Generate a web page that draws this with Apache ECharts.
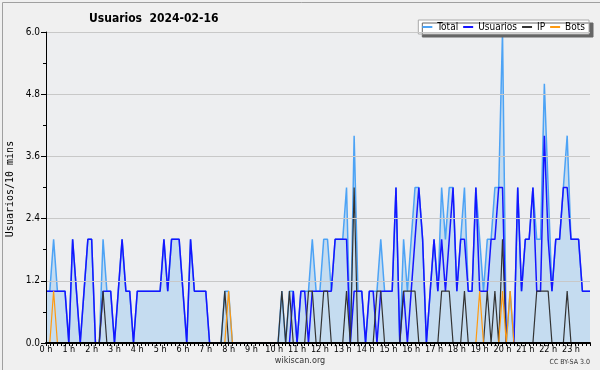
<!DOCTYPE html>
<html><head><meta charset="utf-8">
<script src="https://cdn.jsdelivr.net/npm/echarts@6/dist/echarts.min.js"></script>
<style>html,body{margin:0;padding:0;background:#f0f0f0}#c{width:600px;height:370px}</style>
</head><body><div id="c"></div>
<script>
const hourLabels = ['0 h','1 h','2 h','3 h','4 h','5 h','6 h','7 h','8 h','9 h','10 h','11 h','12 h','13 h','14 h','15 h','16 h','17 h','18 h','19 h','20 h','21 h','22 h','23 h'];
const yTickLabels = ['0.0','1.2','2.4','3.6','4.8','6.0'];
const seriesNames = ['Total','Usuarios','IP','Bots'];
// one value per 10 minutes (144 slots)
const total = [
1,1,2,1,1,1,0,2,1,0,1,2,2,0,0,2,1,1,0,1,2,1,1,0,
1,1,1,1,1,1,1,2,1,2,2,2,1,0,2,1,1,1,1,0,0,0,0,1,
1,0,0,0,0,0,0,0,0,0,0,0,0,0,1,0,1,1,0,1,1,1,2,1,
1,2,2,1,2,2,2,3,0,4,1,1,0,1,1,1,2,1,1,1,3,0,2,1,
2,3,3,2,0,1,2,1,3,2,3,3,1,2,3,1,1,3,2,1,2,2,3,3,
6,0,1,0,3,1,2,2,3,2,2,5,3,1,2,2,3,4,2,2,2,1,1,1];
const usuarios = [
1,1,1,1,1,1,0,2,1,0,1,2,2,0,0,1,1,1,0,1,2,1,1,0,
1,1,1,1,1,1,1,2,1,2,2,2,1,0,2,1,1,1,1,0,0,0,0,0,
0,0,0,0,0,0,0,0,0,0,0,0,0,0,0,0,0,1,0,1,1,0,1,1,
1,1,1,1,2,2,2,2,0,1,1,1,0,1,1,0,1,1,1,1,3,0,1,0,
1,2,3,2,0,1,2,1,2,1,2,3,1,2,2,1,1,3,1,1,1,2,2,3,
3,0,0,0,3,1,2,2,3,1,1,4,2,1,2,2,3,3,2,2,2,1,1,1];
const ip = [
0,0,0,0,0,0,0,0,0,0,0,0,0,0,0,1,0,0,0,0,0,0,0,0,
0,0,0,0,0,0,0,0,0,0,0,0,0,0,0,0,0,0,0,0,0,0,0,1,
0,0,0,0,0,0,0,0,0,0,0,0,0,0,1,0,1,0,0,0,0,1,1,0,
0,1,1,0,0,0,0,1,0,3,0,0,0,0,0,1,1,0,0,0,0,0,1,1,
1,1,0,0,0,0,0,0,1,1,1,0,0,0,1,0,0,0,0,0,1,0,1,0,
2,0,0,0,0,0,0,0,0,1,1,1,1,0,0,0,0,1,0,0,0,0,0,0];
const bots = [
0,0,1,0,0,0,0,0,0,0,0,0,0,0,0,0,0,0,0,0,0,0,0,0,
0,0,0,0,0,0,0,0,0,0,0,0,0,0,0,0,0,0,0,0,0,0,0,0,
1,0,0,0,0,0,0,0,0,0,0,0,0,0,0,0,0,0,0,0,0,0,0,0,
0,0,0,0,0,0,0,0,0,0,0,0,0,0,0,0,0,0,0,0,0,0,0,0,
0,0,0,0,0,0,0,0,0,0,0,0,0,0,0,0,0,0,1,0,0,0,0,0,
1,0,1,0,0,0,0,0,0,0,0,0,0,0,0,0,0,0,0,0,0,0,0,0];

const colors = {Total:'#4da3f5', Usuarios:'#1515ff', IP:'#333333', Bots:'#ff9a10'};
const F = 'DejaVu Sans Condensed, DejaVu Sans, sans-serif';
const pts = a => a.map((v,i)=>[i,v]);

const chart = echarts.init(document.getElementById('c'), null, {renderer:'canvas'});
chart.setOption({
  backgroundColor:'#f0f0f0',
  animation:false,
  title:{text:'Usuarios  2024-02-16', left:84, top:8,
    textStyle:{fontFamily:F, fontSize:12, fontWeight:'bold', color:'#000'}},
  legend:{data:seriesNames, right:11, top:20, orient:'horizontal',
    backgroundColor:'#ffffff', borderColor:'#aaaaaa', borderWidth:1,
    shadowColor:'#666', shadowBlur:0, shadowOffsetX:4, shadowOffsetY:3,
    padding:[2,4,2,4], itemGap:5, itemWidth:10, itemHeight:2, icon:'rect',
    textStyle:{fontFamily:F, fontSize:10, color:'#000'}},
  grid:{left:46, right:10, top:32, bottom:27, show:true, backgroundColor:'#edeef0', borderWidth:0},
  xAxis:{type:'value', min:0, max:143, interval:6, z:10,
    axisLine:{lineStyle:{color:'#000', width:2}},
    axisTick:{length:3, lineStyle:{color:'#000'}},
    minorTick:{show:true, splitNumber:6, length:3, lineStyle:{color:'#000'}},
    splitLine:{show:false},
    axisLabel:{margin:2, showMaxLabel:false, fontFamily:F, fontSize:9, color:'#000',
      formatter:v=>hourLabels[v/6]}},
  yAxis:{type:'value', min:0, max:6, interval:1.2, z:10,
    axisLine:{show:true, lineStyle:{color:'#000', width:1}},
    axisTick:{show:true, length:5, lineStyle:{color:'#000'}},
    minorTick:{show:true, splitNumber:2, length:3, lineStyle:{color:'#000'}},
    splitLine:{lineStyle:{color:'#c8c8c8', width:1}},
    axisLabel:{margin:6, fontFamily:F, fontSize:10, color:'#000',
      formatter:v=>yTickLabels[Math.round(v/1.2)]}},
  series:[
    {name:'Total', type:'line', data:pts(total), symbol:'none', color:colors.Total,
      lineStyle:{width:1.5, color:colors.Total}, areaStyle:{color:'#c5dcf0', opacity:1}, z:2},
    {name:'Usuarios', type:'line', data:pts(usuarios), symbol:'none', color:colors.Usuarios,
      lineStyle:{width:1.5, color:colors.Usuarios}, z:3},
    {name:'IP', type:'line', data:pts(ip), symbol:'none', color:colors.IP,
      lineStyle:{width:1.2, color:colors.IP}, z:4},
    {name:'Bots', type:'line', data:pts(bots), symbol:'none', color:colors.Bots,
      lineStyle:{width:1.2, color:colors.Bots}, z:5}
  ],
  graphic:[
    {type:'rect', left:0, top:0, shape:{width:599, height:369}, style:{fill:'none', stroke:'#a0a0a0', lineWidth:1}, silent:true, z:100},
    {type:'text', x:10, y:189, rotation:Math.PI/2, style:{text:'Usuarios/10 mins', font:'10px "DejaVu Sans Mono"', fill:'#000', textAlign:'center', textVerticalAlign:'middle'}},
    {type:'text', x:300, y:361, style:{text:'wikiscan.org', font:'9px '+F, fill:'#333', textAlign:'center', textVerticalAlign:'middle'}},
    {type:'text', x:590, y:362, style:{text:'CC BY-SA 3.0', font:'7px '+F, fill:'#333', textAlign:'right', textVerticalAlign:'middle'}}
  ]
});
</script></body></html>
